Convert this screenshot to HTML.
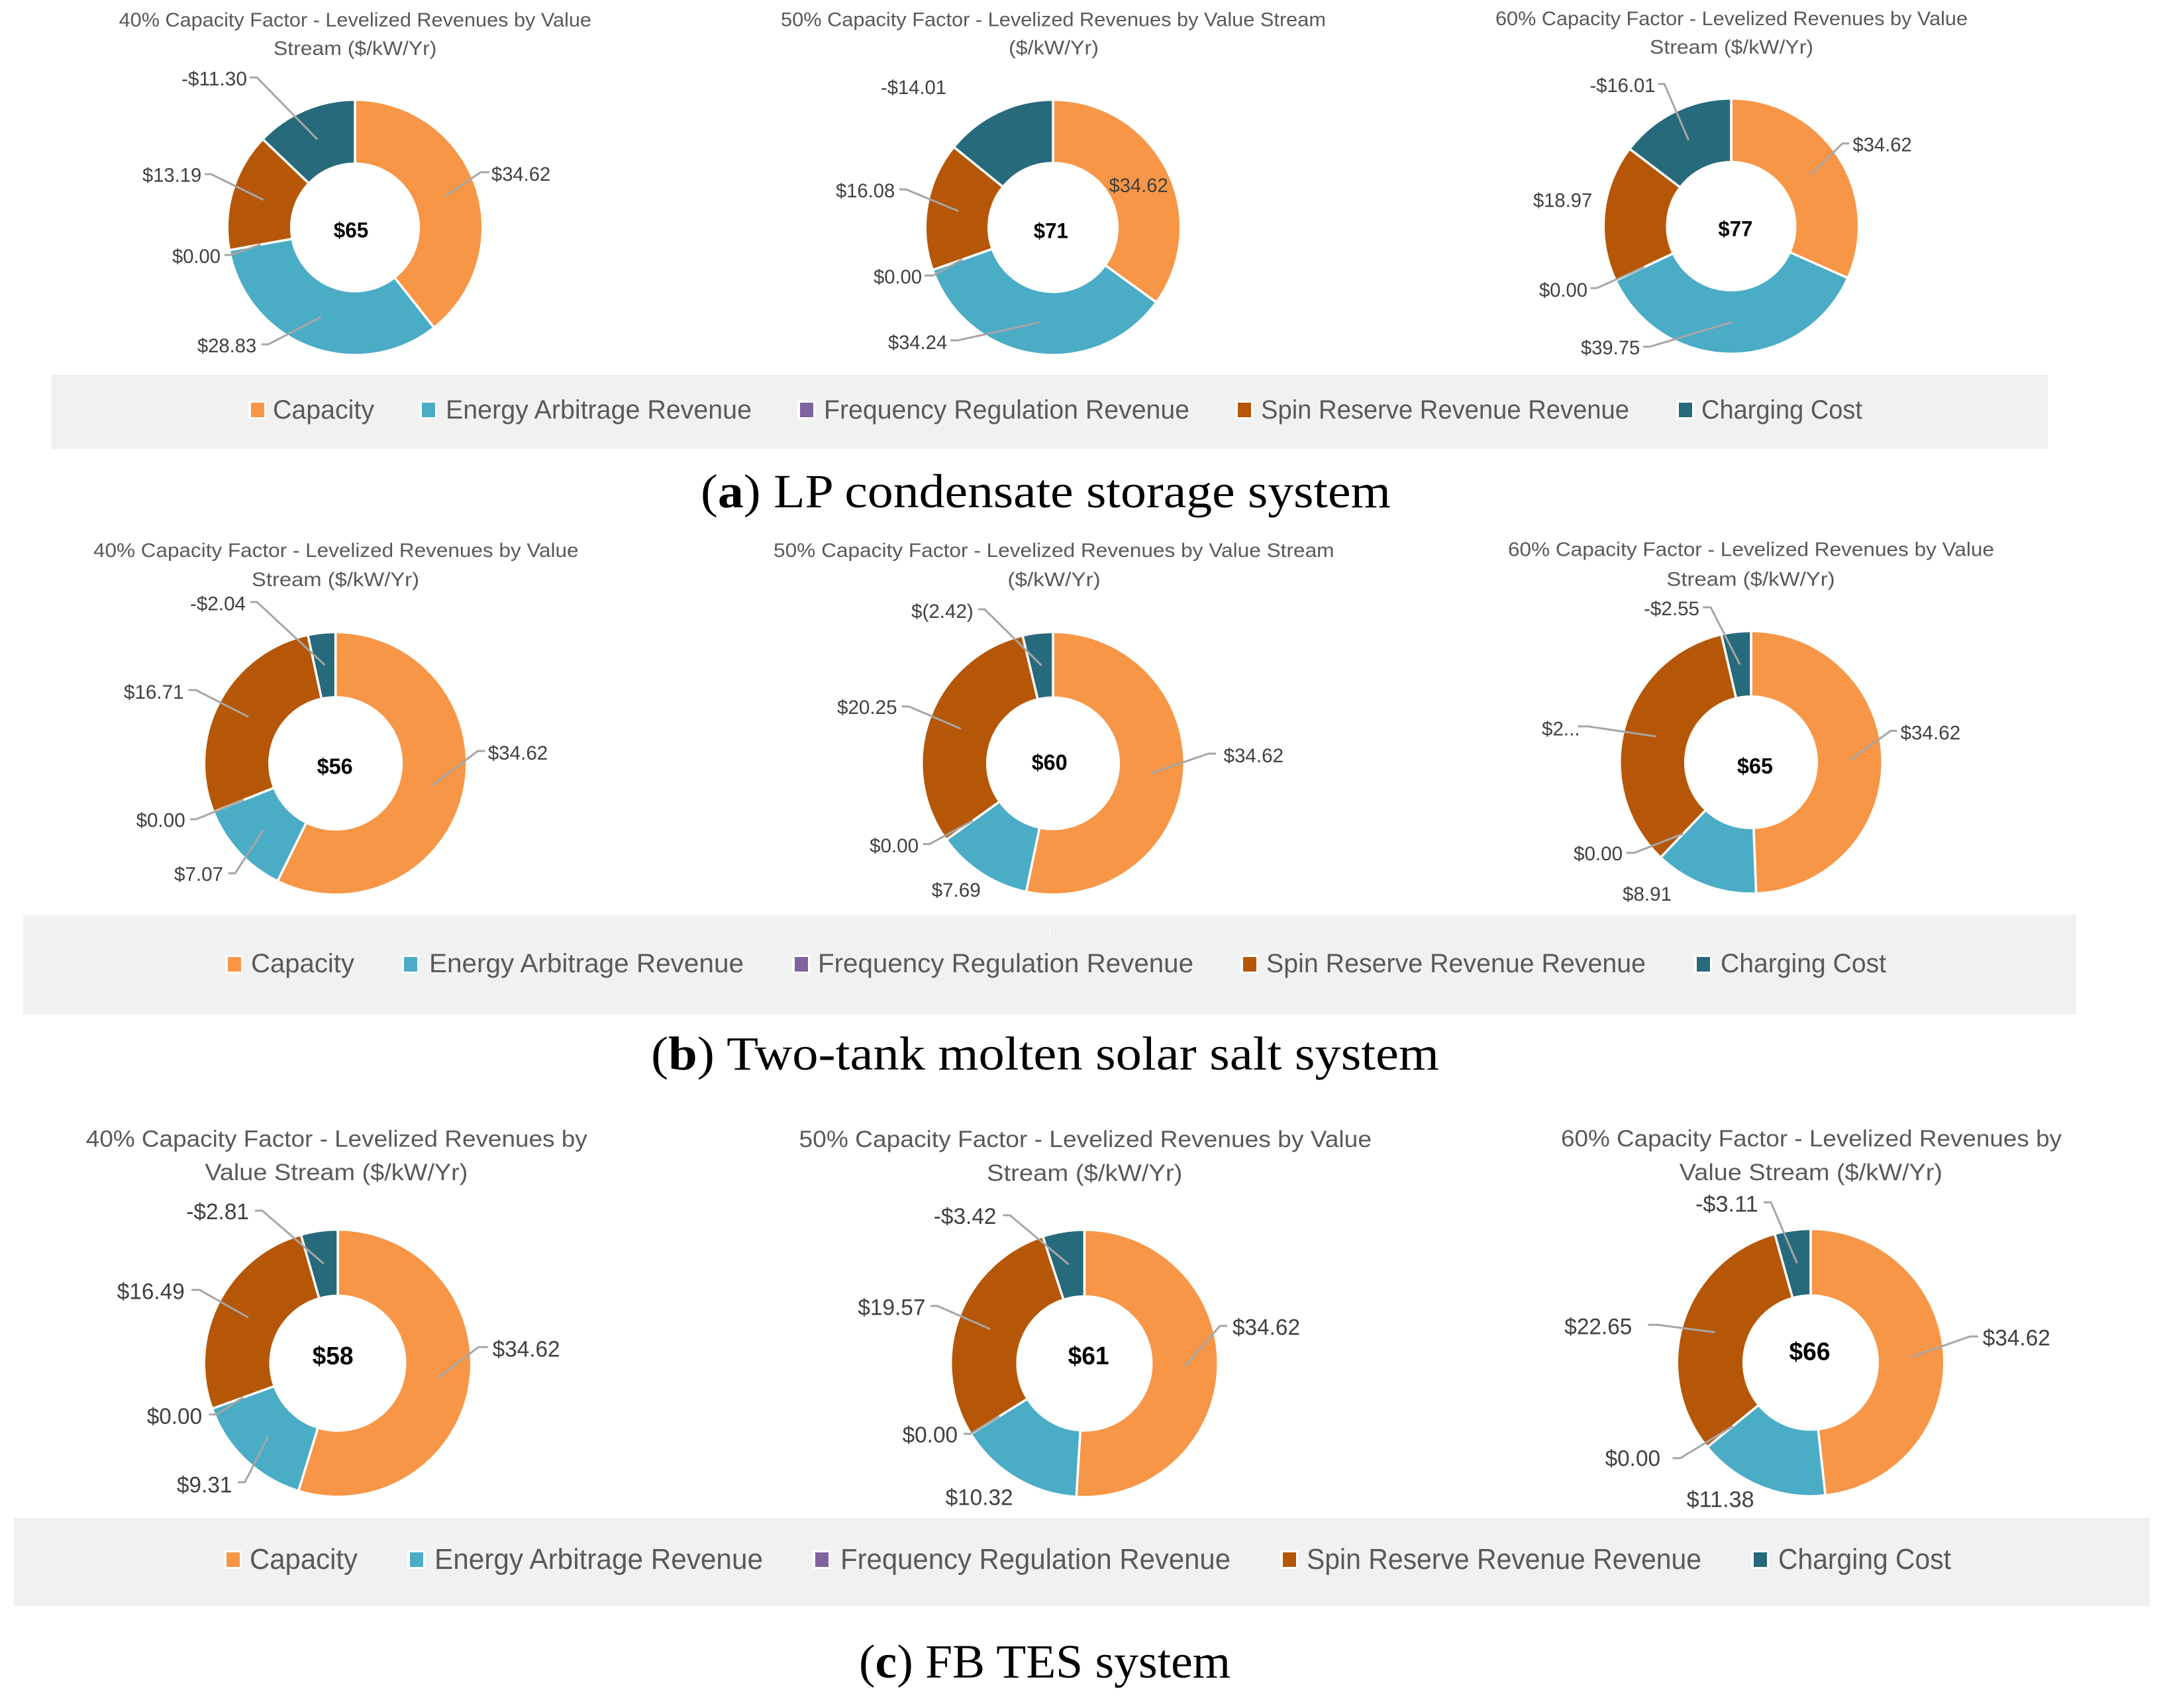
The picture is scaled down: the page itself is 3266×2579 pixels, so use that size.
<!DOCTYPE html>
<html lang="en">
<head>
<meta charset="utf-8">
<title>Levelized Revenues by Value Stream</title>
<style>
html,body{margin:0;padding:0;background:#fff;width:3266px;height:2579px;overflow:hidden}
svg{display:block}
text{font-family:"Liberation Sans",sans-serif}
.cap{font-family:"Liberation Serif",serif;fill:#000}
</style>
</head>
<body>
<svg id="root" xmlns="http://www.w3.org/2000/svg" width="3266" height="2579" viewBox="0 0 3266 2579">
  <rect x="77" y="566" width="3015" height="112" fill="#f1f1f1"/>
  <rect x="35" y="1381" width="3100" height="151" fill="#f1f1f1"/>
  <rect x="1584" y="1404" width="2" height="10" fill="#ffffff"/>
  <rect x="21" y="2292" width="3225" height="133" fill="#f1f1f1"/>
  <text class="cap" x="1058" y="766" font-size="72" textLength="1042" lengthAdjust="spacingAndGlyphs">(<tspan font-weight="bold">a</tspan>) LP condensate storage system</text>
  <text class="cap" x="983" y="1615" font-size="72" textLength="1190" lengthAdjust="spacingAndGlyphs">(<tspan font-weight="bold">b</tspan>) Two-tank molten solar salt system</text>
  <text class="cap" x="1297" y="2533" font-size="72" textLength="561" lengthAdjust="spacingAndGlyphs">(<tspan font-weight="bold">c</tspan>) FB TES system</text>
</svg>
<script>
// ---- Data: series order is capacity, energy arbitrage, frequency regulation, spin reserve, charging cost
const categories = ['Capacity', 'Energy Arbitrage Revenue', 'Frequency Regulation Revenue', 'Spin Reserve Revenue Revenue', 'Charging Cost'];
const lp40 = [34.62, 28.83, 0, 13.19, -11.30];
const lp50 = [34.62, 34.24, 0, 16.08, -14.01];
const lp60 = [34.62, 39.75, 0, 18.97, -16.01];
const salt40 = [34.62, 7.07, 0, 16.71, -2.04];
const salt50 = [34.62, 7.69, 0, 20.25, -2.42];
const salt60 = [34.62, 8.91, 0, 24.02, -2.55];
const fb40 = [34.62, 9.31, 0, 16.49, -2.81];
const fb50 = [34.62, 10.32, 0, 19.57, -3.42];
const fb60 = [34.62, 11.38, 0, 22.65, -3.11];
const lp40Labels = ['$34.62', '$28.83', '$0.00', '$13.19', '-$11.30'];
const lp50Labels = ['$34.62', '$34.24', '$0.00', '$16.08', '-$14.01'];
const lp60Labels = ['$34.62', '$39.75', '$0.00', '$18.97', '-$16.01'];
const salt40Labels = ['$34.62', '$7.07', '$0.00', '$16.71', '-$2.04'];
const salt50Labels = ['$34.62', '$7.69', '$0.00', '$20.25', '$(2.42)'];
const salt60Labels = ['$34.62', '$8.91', '$0.00', '$2...', '-$2.55'];
const fb40Labels = ['$34.62', '$9.31', '$0.00', '$16.49', '-$2.81'];
const fb50Labels = ['$34.62', '$10.32', '$0.00', '$19.57', '-$3.42'];
const fb60Labels = ['$34.62', '$11.38', '$0.00', '$22.65', '-$3.11'];
const colors = ['#F79646', '#4BACC6', '#8064A2', '#B65708', '#276A7C'];

// ---- Layout only (no values): chart frames, titles, manually placed data labels
const charts = [
  {id:'lp-40', values:lp40, labels:lp40Labels, cx:536, cy:343.4, ro:191, ri:98, em:32, lf:30,
   title:[['40% Capacity Factor - Levelized Revenues  by Value',179.6,893,40],['Stream ($/kW/Yr)',413,659.4,83]], tf:30,
   total:[530,358.7,52.6,32],
   place:[[742,273,739,726,260],[298,532,395,405,520],[260,397,339,349,385],[215,274.5,309,319,263],[274,129,377,388,117]]},
  {id:'lp-50', values:lp50, labels:lp50Labels, cx:1590, cy:343.4, ro:191, ri:99, em:32, lf:30,
   title:[['50% Capacity Factor - Levelized Revenues  by Value Stream',1179,2002,39.4],['($/kW/Yr)',1523,1659,82]], tf:30,
   total:[1586.8,359.7,52,32],
   place:[[1674.5,290],[1341,527,1435,1446,514],[1319,428,1396,1409,416],[1262,298,1358,1368,286],[1330,142]]},
  {id:'lp-60', values:lp60, labels:lp60Labels, cx:2614, cy:341.5, ro:191, ri:98.5, em:32, lf:30,
   title:[['60% Capacity Factor - Levelized Revenues  by Value',2258,2971,38],['Stream ($/kW/Yr)',2491,2738,81]], tf:30,
   total:[2620.4,356.7,52,32],
   place:[[2797.5,228.5,2792,2782,216.6],[2387,535,2481,2491,523.5],[2324,448,2401.5,2411,435],[2315,312.7],[2400.5,139,2503.6,2513,126.7]]},
  {id:'salt-40', values:salt40, labels:salt40Labels, cx:506.6, cy:1152.6, ro:196.5, ri:101.5, em:32.5, lf:30,
   title:[['40% Capacity Factor - Levelized Revenues  by Value',141,873.5,841],['Stream ($/kW/Yr)',380,633,885]], tf:30,
   total:[505.6,1168.5,54,33],
   place:[[736.7,1147,732.6,721.4,1134],[263,1330,345,355,1318.6],[205.6,1248.5,287,296.4,1237],[187,1055,284.7,296,1042],[287,921.7,378,388,909]]},
  {id:'salt-50', values:salt50, labels:salt50Labels, cx:1590, cy:1152.5, ro:196.5, ri:101, em:32.5, lf:30,
   title:[['50% Capacity Factor - Levelized Revenues  by Value Stream',1168,2014.5,841],['($/kW/Yr)',1521.4,1661.7,885]], tf:30,
   total:[1584.7,1162.4,54,33],
   place:[[1847.5,1151,1836,1824.5,1138],[1406.6,1353.8],[1313,1286.8,1394,1403.6,1274.5],[1264,1078,1361.7,1372.4,1066.7],[1376,933,1477,1486.7,920]]},
  {id:'salt-60', values:salt60, labels:salt60Labels, cx:2644, cy:1151, ro:196.5, ri:101, em:32.5, lf:30,
   title:[['60% Capacity Factor - Levelized Revenues  by Value',2277,3011,839.7],['Stream ($/kW/Yr)',2516.4,2770.7,884.6]], tf:30,
   total:[2650,1167.8,54,33],
   place:[[2869.6,1116.7,2864.4,2854.8,1103.5],[2450,1360],[2376,1299,2455.4,2468,1287.7],[2328,1110.6,2382.6,2397.5,1096.8],[2482,929,2571.4,2583,917]]},
  {id:'fb-40', values:fb40, labels:fb40Labels, cx:510, cy:2058.4, ro:200, ri:103.5, em:36.6, lf:34,
   title:[['40% Capacity Factor - Levelized Revenues by',129.8,886.7,1731.6],['Value Stream ($/kW/Yr)',309.4,706.4,1782]], tf:35,
   total:[502.6,2060,62,38],
   place:[[743.6,2048.7,736.6,722.5,2034],[267,2253.4,359,369.7,2238],[221.7,2150,315.7,327.6,2135.8],[176.8,1961.5,289,301.6,1947.8],[281.3,1841,385,396,1828]]},
  {id:'fb-50', values:fb50, labels:fb50Labels, cx:1637.4, cy:2058.7, ro:200, ri:103, em:36.6, lf:34,
   title:[['50% Capacity Factor - Levelized Revenues by Value',1206.5,2071,1732],['Stream ($/kW/Yr)',1490,1785.4,1783]], tf:35,
   total:[1643.6,2060,62,38],
   place:[[1861,2015.7,1853,1842,2002],[1427.6,2272.5],[1362.6,2178,1454.7,1465.6,2165],[1295.4,1985.4,1405,1415.7,1972],[1409.8,1848,1514.4,1525,1835]]},
  {id:'fb-60', values:fb60, labels:fb60Labels, cx:2734, cy:2057.4, ro:200, ri:103, em:36.6, lf:34,
   title:[['60% Capacity Factor - Levelized Revenues by',2357,3113,1731],['Value Stream ($/kW/Yr)',2535.8,2933,1781.8]], tf:35,
   total:[2732.5,2053.6,62,38],
   place:[[2993.8,2031.7,2987,2974.8,2018],[2546.6,2275.5],[2423.6,2213.5,2525.5,2537.4,2201.7],[2362.3,2014.5,2488.6,2503,2000.4],[2560,1829.3,2663,2674,1815.5]]}
];
const legends = [
  {id:'a', swatchY:608, base:632, font:40, swatch:[377,635,1206,1867,2533], text:[[412,565],[673,1135],[1244,1796],[1904,2460],[2569,2812]]},
  {id:'b', swatchY:1445, base:1468, font:40, swatch:[342,608,1198,1875,2560], text:[[379,535],[648,1123],[1235,1802],[1912,2485],[2598,2848]]},
  {id:'c', swatchY:2344, base:2369, font:44, swatch:[340,617,1229,1935,2646], text:[[377,540],[656,1152],[1269,1858],[1973,2569],[2685,2946]]}
];

// ---- Drawing
const NS = 'http://www.w3.org/2000/svg';
const root = document.getElementById('root');
const STROKE = 3.5;
const CHAR = {'$':.507, '.':.252, '-':.306, '(':.303, ')':.303};
function charWidth(s){ let w = 0; for (const c of s) w += (CHAR[c] !== undefined ? CHAR[c] : .507); return w; }
function make(tag, attrs, parent){
  const el = document.createElementNS(NS, tag);
  for (const k in attrs) el.setAttribute(k, attrs[k]);
  parent.appendChild(el);
  return el;
}
function polar(c, r, deg){
  const a = deg * Math.PI / 180;
  return [c.cx + r * Math.sin(a), c.cy - r * Math.cos(a)];
}
function sector(c, a0, a1){
  const ro = c.ro + STROKE / 2, ri = c.ri - STROKE / 2;
  const large = (a1 - a0) > 180 ? 1 : 0;
  const p0 = polar(c, ro, a0), p1 = polar(c, ro, a1), p2 = polar(c, ri, a1), p3 = polar(c, ri, a0);
  return 'M' + p0 + 'A' + ro + ' ' + ro + ' 0 ' + large + ' 1 ' + p1 +
         'L' + p2 + 'A' + ri + ' ' + ri + ' 0 ' + large + ' 0 ' + p3 + 'Z';
}
function slug(s){ return s.toLowerCase().replace(/[^a-z0-9]+/g, '-'); }

charts.forEach(function(c){
  const g = make('g', {}, root);
  
  

  c.title.forEach(function(line, i){
    const t = make('text', {x: line[1], y: line[3], 'font-size': c.tf, fill: '#595959', textLength: line[2] - line[1], lengthAdjust: 'spacingAndGlyphs'}, g);
    t.textContent = line[0];
    
    
  });

  const total = c.values.reduce(function(s, v){ return s + Math.abs(v); }, 0);
  let angle = 0;
  const mids = [];
  c.values.forEach(function(v, i){
    const sweep = Math.abs(v) / total * 360;
    const p = make('path', {d: sector(c, angle, angle + sweep), fill: colors[i], stroke: '#fff', 'stroke-width': STROKE}, g);
    
    
    mids.push(angle + sweep / 2);
    angle += sweep;
  });

  c.labels.forEach(function(label, i){
    const pl = c.place[i];
    if (pl.length > 2) {
      const end = polar(c, (c.ro + c.ri) / 2, mids[i]);
      const line = make('polyline', {points: pl[2] + ',' + pl[4] + ' ' + pl[3] + ',' + pl[4] + ' ' + end[0] + ',' + end[1], fill: 'none', stroke: '#A6A6A6', 'stroke-width': 3}, g);
      
      
    }
    const t = make('text', {x: pl[0], y: pl[1], 'font-size': c.lf, fill: '#404040', textLength: charWidth(label) * c.em, lengthAdjust: 'spacingAndGlyphs'}, g);
    t.textContent = label;
    
    
  });

  const net = c.values.reduce(function(s, v){ return s + v; }, 0);
  const tt = make('text', {x: c.total[0] - c.total[2] / 2, y: c.total[1], 'font-size': c.total[3], 'font-weight': 'bold', fill: '#000', textLength: c.total[2], lengthAdjust: 'spacingAndGlyphs'}, g);
  tt.textContent = '$' + Math.round(net);
  
  
});

legends.forEach(function(l){
  const g = make('g', {}, root);
  
  
  categories.forEach(function(name, i){
    const box = make('rect', {x: l.swatch[i] - 2, y: l.swatchY - 3, width: 27, height: 28, fill: '#fff'}, g);
    
    
    const sw = make('rect', {x: l.swatch[i] + 2, y: l.swatchY, width: 20, height: 22, fill: colors[i]}, g);
    
    
    const t = make('text', {x: l.text[i][0], y: l.base, 'font-size': l.font, fill: '#595959', textLength: l.text[i][1] - l.text[i][0], lengthAdjust: 'spacingAndGlyphs'}, g);
    t.textContent = name;
    
    
  });
});
</script>
</body>
</html>
